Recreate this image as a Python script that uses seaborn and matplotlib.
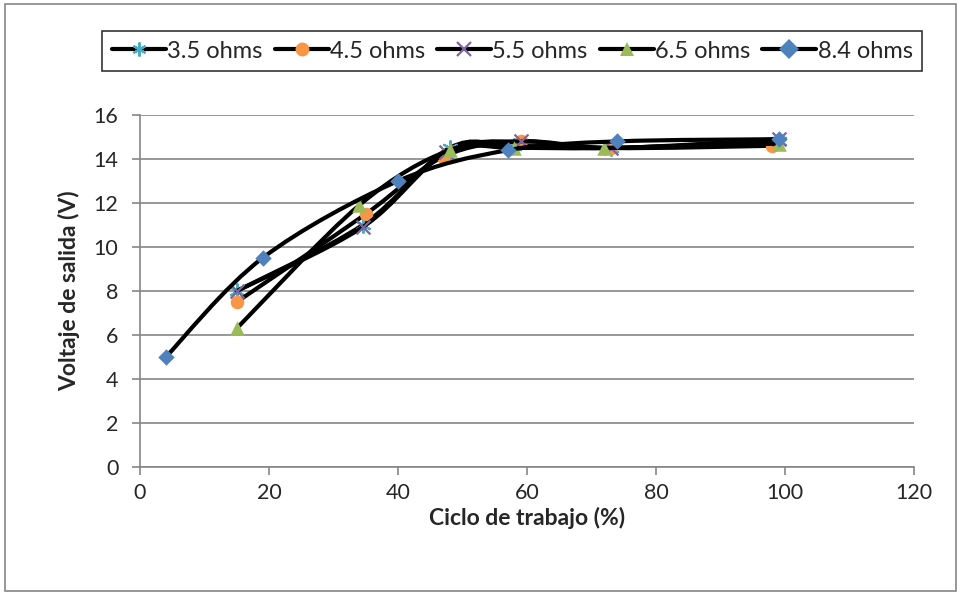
import numpy as np
import pandas as pd
import matplotlib
matplotlib.use("Agg")
import matplotlib.pyplot as plt
import seaborn as sns
from matplotlib.path import Path
from matplotlib.patches import PathPatch, Rectangle
from matplotlib.lines import Line2D

# data
series_names = ["3.5 ohms", "4.5 ohms", "5.5 ohms", "6.5 ohms", "8.4 ohms"]

duty_35 = [15, 34.5, 48, 58, 73, 99]
volt_35 = [8.0, 11.0, 14.5, 14.6, 14.5, 14.8]

duty_45 = [15, 35, 47, 59, 73, 98]
volt_45 = [7.5, 11.5, 14.1, 14.8, 14.5, 14.6]

duty_55 = [15, 34.5, 47.5, 59, 73, 99]
volt_55 = [8.0, 10.9, 14.3, 14.8, 14.5, 14.9]

duty_65 = [15, 34, 48, 58, 72, 99]
volt_65 = [6.3, 11.9, 14.4, 14.5, 14.5, 14.7]

duty_84 = [4, 19, 40, 57, 74, 99]
volt_84 = [5.0, 9.5, 13.0, 14.4, 14.8, 14.9]

x_ticks = [0, 20, 40, 60, 80, 100, 120]
y_ticks = [0, 2, 4, 6, 8, 10, 12, 14, 16]

duties = [duty_35, duty_45, duty_55, duty_65, duty_84]
volts = [volt_35, volt_45, volt_55, volt_65, volt_84]

frames = []
for name, d, v in zip(series_names, duties, volts):
    frames.append(pd.DataFrame({"serie": name, "ciclo": d, "voltaje": v}))
df = pd.concat(frames, ignore_index=True)

# marker styles (Excel-like)
colors = {"3.5 ohms": "#4BACC6", "4.5 ohms": "#F79646", "5.5 ohms": "#8064A2",
          "6.5 ohms": "#9BBB59", "8.4 ohms": "#4F81BD"}
markers = {"3.5 ohms": (6, 2, 0), "4.5 ohms": "o", "5.5 ohms": "x",
           "6.5 ohms": "^", "8.4 ohms": "D"}
sizes = {"3.5 ohms": 110, "4.5 ohms": 95, "5.5 ohms": 100, "6.5 ohms": 110, "8.4 ohms": 70}
edge_w = {"3.5 ohms": 1.6, "4.5 ohms": 0, "5.5 ohms": 1.6, "6.5 ohms": 0, "8.4 ohms": 0}


def smooth_path(xs, ys):
    # Excel style smoothed line: cubic bezier segments (Catmull-Rom)
    pts = np.column_stack([xs, ys]).astype(float)
    n = len(pts)
    verts = [pts[0]]
    codes = [Path.MOVETO]
    for i in range(n - 1):
        p0 = pts[i - 1] if i > 0 else pts[i]
        p1 = pts[i]
        p2 = pts[i + 1]
        p3 = pts[i + 2] if i + 2 < n else pts[i + 1]
        c1 = p1 + (p2 - p0) / 6.0
        c2 = p2 - (p3 - p1) / 6.0
        verts += [c1, c2, p2]
        codes += [Path.CURVE4] * 3
    return Path(verts, codes)


sns.set_style("white")
plt.rcParams["font.family"] = ["Lato", "DejaVu Sans"]

fig = plt.figure(figsize=(9.61, 5.95), dpi=100)
ax = fig.add_axes([140 / 961, 128 / 595, 774 / 961, 352 / 595])

for k, name in enumerate(series_names):
    sub = df[df["serie"] == name]
    patch = PathPatch(smooth_path(sub["ciclo"].values, sub["voltaje"].values),
                      facecolor="none", edgecolor="black", lw=3.0,
                      capstyle="round", joinstyle="round", zorder=3 + 2 * k)
    ax.add_patch(patch)
    sns.scatterplot(data=sub, x="ciclo", y="voltaje", ax=ax, color=colors[name],
                    marker=markers[name], s=sizes[name], linewidth=edge_w[name],
                    edgecolor=colors[name], zorder=4 + 2 * k, legend=False)

ax.set_xlim(0, 120)
ax.set_ylim(0, 16)
ax.set_xticks(x_ticks)
ax.set_yticks(y_ticks)
ax.yaxis.grid(True, color="#868686", lw=1.2)
ax.xaxis.grid(False)
for side in ["top", "right"]:
    ax.spines[side].set_visible(False)
for side in ["left", "bottom"]:
    ax.spines[side].set_color("#868686")
    ax.spines[side].set_linewidth(1.2)
ax.tick_params(axis="both", which="major", direction="out", length=5.5, width=1.2,
               color="#868686", labelsize=15.5)
ax.tick_params(axis="y", pad=10)
ax.tick_params(axis="x", pad=6)
ax.tick_params(left=True, bottom=True)

ax.set_xlabel("Ciclo de trabajo (%)", fontsize=16.5, fontweight="bold", labelpad=3)
ax.set_ylabel("Voltaje de salida (V)", fontsize=16.5, fontweight="bold", labelpad=10)

handles = []
for name in series_names:
    handles.append(Line2D([0], [0], color="black", lw=3.0, marker=markers[name],
                          markersize=10, markerfacecolor=colors[name],
                          markeredgecolor=colors[name],
                          markeredgewidth=edge_w[name]))
leg = fig.legend(handles, series_names, loc="center", bbox_to_anchor=(0.533, 0.914),
                 ncol=5, frameon=True, fancybox=False, fontsize=17,
                 handlelength=2.3, handletextpad=0.05, columnspacing=0.5,
                 borderpad=0.4, borderaxespad=0)
leg.get_frame().set_edgecolor("black")
leg.get_frame().set_linewidth(1.2)

# outer chart border
fig.patches.append(Rectangle((5 / 961, 4 / 595), 951 / 961, 587 / 595,
                             transform=fig.transFigure, fill=False,
                             edgecolor="#868686", lw=1.2))

fig.savefig("out.png", dpi=100)
